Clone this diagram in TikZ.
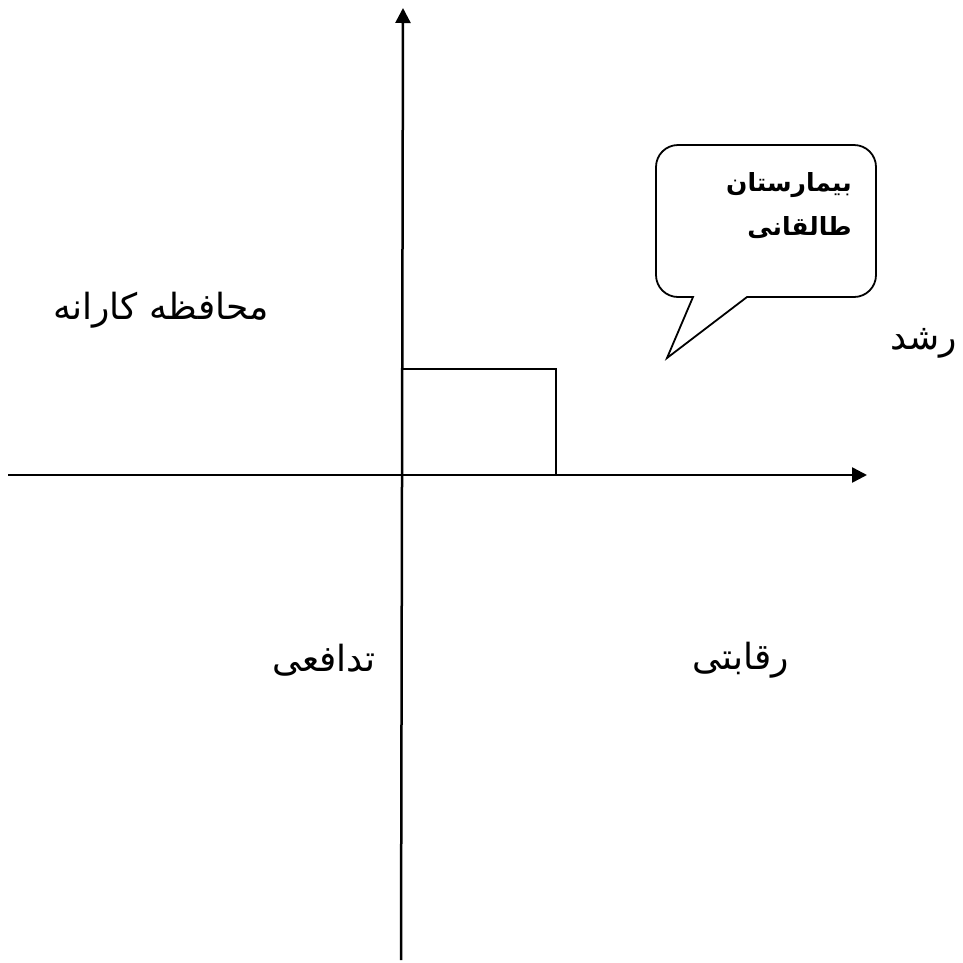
\documentclass[tikz,border=0pt]{standalone}
\usepackage{fontspec}
\newfontfamily\arabicfont[Script=Arabic]{DejaVu Sans}
\TeXXeTstate=1
\usetikzlibrary{arrows.meta}
\begin{document}
\begin{tikzpicture}[x=1pt,y=-1pt,
  axis/.style={line width=2.5pt,-{Triangle[length=15pt,width=15pt]}},
  lbl/.style={font=\arabicfont\fontsize{36}{42}\selectfont,inner sep=0pt},
  bubble/.style={line width=1.8pt}]
\useasboundingbox[fill=white] (0,0) rectangle (963,962);
\coordinate (vb) at (401,960);
\coordinate (vt) at (403,8);
\coordinate (hl) at (8,475);
\coordinate (hr) at (867,475);
\draw[axis] (vb) -- (vt);
\draw[axis] (hl) -- (hr);
\coordinate (r1) at (402,369);
\coordinate (r2) at (556,369);
\coordinate (r3) at (556,475);
\draw[line width=2.5pt] (r1) -- (r2) -- (r3);
\coordinate (tip) at (667,358);
\draw[bubble,fill=white] (693,297) -- (tip) -- (747,297) [rounded corners=22pt] -- (876,297) -- (876,145) -- (656,145) -- (656,297) [sharp corners] -- (693,297) -- (tip);
\node[lbl,font=\arabicfont\bfseries\fontsize{25}{44}\selectfont,anchor=north east,align=right] (callout) at (852,172)
  {\beginR بیمارستان\endR\\\beginR طالقانی\endR};
\node[lbl,anchor=center] (cons) at (161,310) {\beginR محافظه كارانه\endR};
\node[lbl,anchor=center] (grow) at (924,343) {\beginR رشد\endR};
\node[lbl,anchor=center] (comp) at (741,660) {\beginR رقابتی\endR};
\node[lbl,anchor=center] (def) at (324,660) {\beginR تدافعی\endR};
\end{tikzpicture}
\end{document}
